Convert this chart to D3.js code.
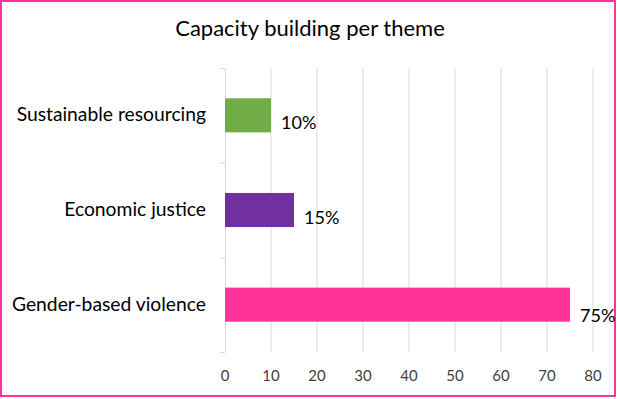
<!DOCTYPE html>
<html><head><meta charset="utf-8">
<script src="https://cdn.jsdelivr.net/npm/d3@7"></script>
<style>body{margin:0;background:#fff}svg{display:block}text{font-family:Lato,"Open Sans","Liberation Sans",sans-serif;fill:#000}</style>
</head><body><svg id="c" width="617" height="399"></svg>
<script>
const categories = ["Sustainable resourcing", "Economic justice", "Gender-based violence"];
const values = [10, 15, 75];
const labels = ["10%", "15%", "75%"];
const colors = ["#70AD47", "#7030A0", "#FF3399"];
const ticks = [0, 10, 20, 30, 40, 50, 60, 70, 80];
const title = "Capacity building per theme";

const svg = d3.select("#c");
svg.append("rect").attr("x", 1).attr("y", 1).attr("width", 614).attr("height", 395)
  .attr("fill", "#fff").attr("stroke", "#FF3399").attr("stroke-width", 2);
svg.append("text").attr("x", 310).attr("y", 36).attr("text-anchor", "middle")
  .style("font-size", "22px").text(title);

const x = d3.scaleLinear().domain([0, 80]).range([225, 593]);
const y = d3.scaleBand().domain(categories).range([68, 352]).paddingInner(0.64).paddingOuter(0.32);

svg.append("g").selectAll("line").data(ticks.slice(1)).join("line")
  .attr("x1", d => x(d)).attr("x2", d => x(d)).attr("y1", 68).attr("y2", 352)
  .attr("stroke", "#d9d9d9").attr("stroke-width", 1);

const step = (352 - 68) / categories.length;
svg.append("line").attr("x1", 225.5).attr("x2", 225.5).attr("y1", 68).attr("y2", 352).attr("stroke", "#d9d9d9");
svg.append("g").selectAll("line").data(d3.range(categories.length + 1)).join("line")
  .attr("x1", 220).attr("x2", 225).attr("y1", i => 68 + i * step + 0.5).attr("y2", i => 68 + i * step + 0.5)
  .attr("stroke", "#d9d9d9");

svg.append("g").selectAll("rect").data(categories).join("rect")
  .attr("x", x(0)).attr("y", d => y(d)).attr("height", y.bandwidth())
  .attr("width", (d, i) => x(values[i]) - x(0)).attr("fill", (d, i) => colors[i]);

svg.append("g").selectAll("text").data(categories).join("text")
  .attr("x", (d, i) => x(values[i]) + 10).attr("y", (d, i) => y(d) + y.bandwidth() / 2 + (i === 2 ? 17 : 14))
  .style("font-size", "18px").text((d, i) => labels[i]);

svg.append("g").selectAll("text").data(categories).join("text")
  .attr("x", 206).attr("y", d => y(d) + y.bandwidth() / 2 + 6).attr("text-anchor", "end")
  .style("font-size", "19.3px").text(d => d);

svg.append("g").selectAll("text").data(ticks).join("text")
  .attr("x", d => x(d)).attr("y", 381).attr("text-anchor", "middle")
  .style("font-size", "15px").style("fill", "#404040").text(d => d);
</script></body></html>
